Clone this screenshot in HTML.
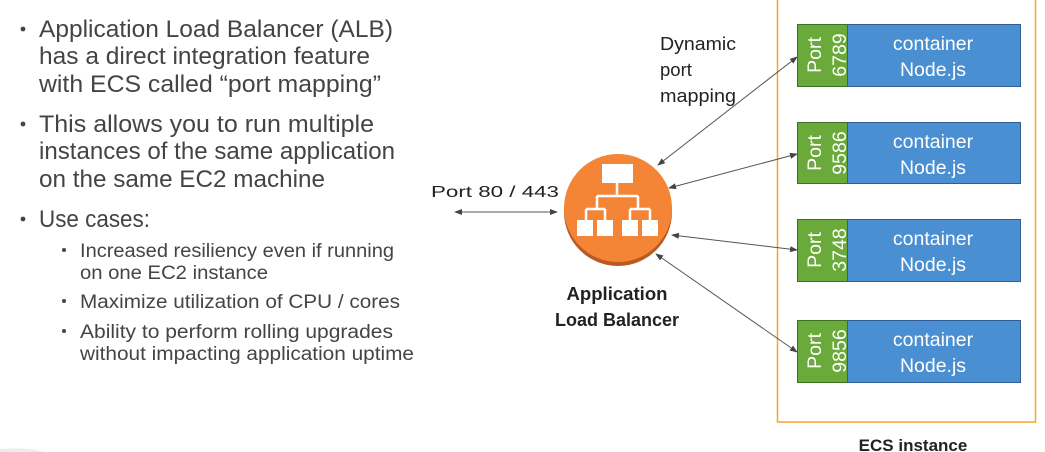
<!DOCTYPE html>
<html><head><meta charset="utf-8"><style>
html,body{margin:0;padding:0;background:#fff;}
svg{display:block;}
</style></head><body>
<svg width="1045" height="452" viewBox="0 0 1045 452" xmlns="http://www.w3.org/2000/svg" font-family="Liberation Sans, sans-serif">
<defs>
<marker id="a" markerWidth="8" markerHeight="8" refX="7" refY="4" orient="auto-start-reverse" markerUnits="userSpaceOnUse">
<path d="M0,1 L8,4 L0,7 z" fill="#444"/>
</marker>
</defs>
<path d="M0,449 Q25,447 45,452 L0,452 z" fill="#ececec"/>
<g fill="#444" font-size="24">
<circle cx="23" cy="29" r="2.4"/>
<text x="39" y="37" textLength="354" lengthAdjust="spacingAndGlyphs">Application Load Balancer (ALB)</text>
<text x="39" y="64" textLength="331" lengthAdjust="spacingAndGlyphs">has a direct integration feature</text>
<text x="39" y="92" textLength="342" lengthAdjust="spacingAndGlyphs">with ECS called “port mapping”</text>
<circle cx="23" cy="124" r="2.4"/>
<text x="39" y="132" textLength="335" lengthAdjust="spacingAndGlyphs">This allows you to run multiple</text>
<text x="39" y="159" textLength="356" lengthAdjust="spacingAndGlyphs">instances of the same application</text>
<text x="39" y="187" textLength="286" lengthAdjust="spacingAndGlyphs">on the same EC2 machine</text>
<circle cx="23" cy="219" r="2.4"/>
<text x="39" y="227" textLength="111" lengthAdjust="spacingAndGlyphs">Use cases:</text>
</g>
<g fill="#444" font-size="19">
<circle cx="64" cy="250" r="2"/>
<text x="80" y="257" textLength="314" lengthAdjust="spacingAndGlyphs">Increased resiliency even if running</text>
<text x="80" y="279" textLength="188" lengthAdjust="spacingAndGlyphs">on one EC2 instance</text>
<circle cx="64" cy="301" r="2"/>
<text x="80" y="308" textLength="320" lengthAdjust="spacingAndGlyphs">Maximize utilization of CPU / cores</text>
<circle cx="64" cy="331" r="2"/>
<text x="80" y="338" textLength="313" lengthAdjust="spacingAndGlyphs">Ability to perform rolling upgrades</text>
<text x="80" y="360" textLength="334" lengthAdjust="spacingAndGlyphs">without impacting application uptime</text>
</g>
<text x="431" y="197" font-size="16" fill="#222" textLength="128" lengthAdjust="spacingAndGlyphs">Port 80 / 443</text>
<line x1="455" y1="212" x2="557" y2="212" stroke="#555" stroke-width="1" marker-start="url(#a)" marker-end="url(#a)"/>
<g fill="#222" font-size="18.5">
<text x="660" y="50" textLength="76" lengthAdjust="spacingAndGlyphs">Dynamic</text>
<text x="660" y="76">port</text>
<text x="660" y="102" textLength="76" lengthAdjust="spacingAndGlyphs">mapping</text>
</g>
<rect x="777.5" y="-5" width="258" height="427" fill="none" stroke="#f5a623" stroke-width="1.5"/>
<g stroke="#555" stroke-width="1" marker-start="url(#a)" marker-end="url(#a)">
<line x1="658" y1="165" x2="797" y2="57"/>
<line x1="669" y1="188" x2="797" y2="154"/>
<line x1="672" y1="235" x2="797" y2="250"/>
<line x1="656" y1="254" x2="797" y2="352"/>
</g>
<circle cx="618" cy="212" r="54" fill="#b85a24"/>
<circle cx="618" cy="208" r="54" fill="#f58536"/>
<g fill="#fff">
<rect x="602" y="164" width="31" height="19"/>
<rect x="577" y="220" width="16" height="16"/>
<rect x="597" y="220" width="16" height="16"/>
<rect x="622" y="220" width="16" height="16"/>
<rect x="642" y="220" width="16" height="16"/>
</g>
<g stroke="#fff" stroke-width="2.5" fill="none">
<path d="M617,183 V196 M597,196 H638 M597,196 V209 M638,196 V209 M586,209 H605 M630,209 H650 M586,209 V220 M605,209 V220 M630,209 V220 M650,209 V220"/>
</g>
<g fill="#222" font-size="18.5" font-weight="bold" text-anchor="middle">
<text x="617" y="300" textLength="101" lengthAdjust="spacingAndGlyphs">Application</text>
<text x="617" y="326" textLength="124" lengthAdjust="spacingAndGlyphs">Load Balancer</text>
<text x="913" y="451" font-size="17">ECS instance</text>
</g>
<g font-size="19.5" fill="#fff">
<g>
<rect x="797.5" y="24.5" width="50" height="62" fill="#6aaa3a" stroke="#3e6f22"/>
<rect x="847.5" y="24.5" width="173" height="62" fill="#4a8fd2" stroke="#2f5f96"/>
<text x="933" y="50" text-anchor="middle">container</text><text x="933" y="76" text-anchor="middle">Node.js</text>
<text transform="translate(821,55) rotate(-90)" text-anchor="middle">Port</text>
<text transform="translate(846,55) rotate(-90)" text-anchor="middle">6789</text>
</g>
<g>
<rect x="797.5" y="122.5" width="50" height="61" fill="#6aaa3a" stroke="#3e6f22"/>
<rect x="847.5" y="122.5" width="173" height="61" fill="#4a8fd2" stroke="#2f5f96"/>
<text x="933" y="148" text-anchor="middle">container</text><text x="933" y="174" text-anchor="middle">Node.js</text>
<text transform="translate(821,153) rotate(-90)" text-anchor="middle">Port</text>
<text transform="translate(846,153) rotate(-90)" text-anchor="middle">9586</text>
</g>
<g>
<rect x="797.5" y="219.5" width="50" height="62" fill="#6aaa3a" stroke="#3e6f22"/>
<rect x="847.5" y="219.5" width="173" height="62" fill="#4a8fd2" stroke="#2f5f96"/>
<text x="933" y="245" text-anchor="middle">container</text><text x="933" y="271" text-anchor="middle">Node.js</text>
<text transform="translate(821,250) rotate(-90)" text-anchor="middle">Port</text>
<text transform="translate(846,250) rotate(-90)" text-anchor="middle">3748</text>
</g>
<g>
<rect x="797.5" y="320.5" width="50" height="62" fill="#6aaa3a" stroke="#3e6f22"/>
<rect x="847.5" y="320.5" width="173" height="62" fill="#4a8fd2" stroke="#2f5f96"/>
<text x="933" y="346" text-anchor="middle">container</text><text x="933" y="372" text-anchor="middle">Node.js</text>
<text transform="translate(821,351) rotate(-90)" text-anchor="middle">Port</text>
<text transform="translate(846,351) rotate(-90)" text-anchor="middle">9856</text>
</g>
</g>
</svg>
</body></html>
